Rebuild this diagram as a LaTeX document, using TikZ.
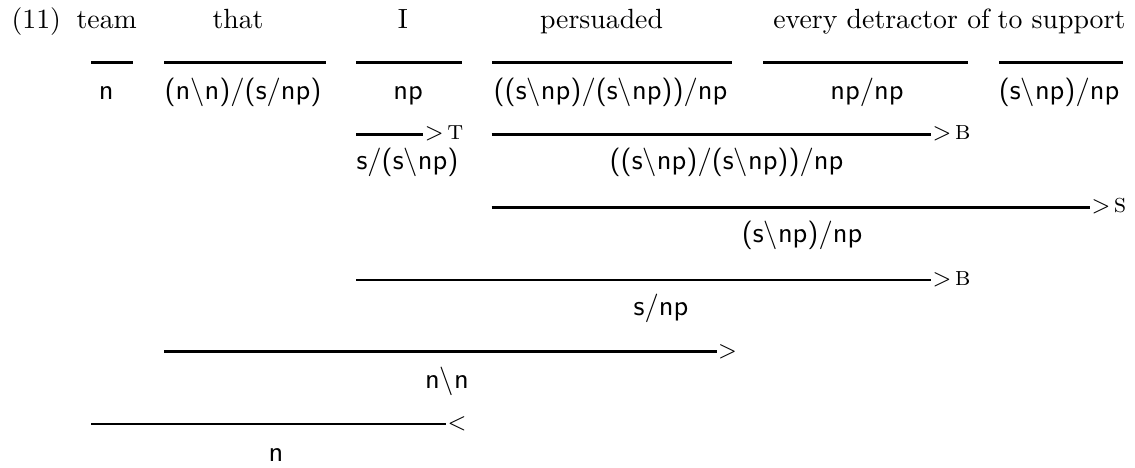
\documentclass[tikz,border=0pt]{standalone}
\newcommand{\cbs}{\ensuremath{\backslash}}
\newcommand{\rlab}[1]{{\fontsize{9.5}{11}\selectfont\textsc{#1}}}
\tikzset{
  word/.style={anchor=base, inner sep=0pt, font=\fontsize{9.75}{11}\selectfont},
  cat/.style={anchor=base, inner sep=0pt, font=\sffamily},
  drule/.style={line width=1.05pt},
  rulelab/.style={anchor=base west, inner sep=0pt, yshift=-5.2*0.3509pt, font=\fontsize{7.6}{9}\selectfont},
}
\begin{document}
\begin{tikzpicture}[x=0.3509pt, y=-0.3509pt]
\useasboundingbox (0,0) rectangle (1135,468);
% words
\node[word, anchor=base west] (num) at (11,28.3) {(11)};
\node[word] (w1) at (106.7,28.3) {team};
\node[word] (w2) at (238,28.3) {that};
\node[word] (w3) at (403,28.3) {I};
\node[word] (w4) at (601.5,28.3) {persuaded};
\node[word] (w5) at (881.5,28.3) {every detractor of};
\node[word] (w6) at (1061.5,28.3) {to support};
% lexical rules
\coordinate (a1) at (91,62.7);    \coordinate (b1) at (132.7,62.7);
\coordinate (a2) at (164,62.7);   \coordinate (b2) at (325.7,62.7);
\coordinate (a3) at (356,62.7);   \coordinate (b3) at (461.7,62.7);
\coordinate (a4) at (492.3,62.7); \coordinate (b4) at (731.7,62.7);
\coordinate (a5) at (763,62.7);   \coordinate (b5) at (968,62.7);
\coordinate (a6) at (999,62.7);   \coordinate (b6) at (1122.7,62.7);
\draw[drule] (a1) -- (b1);
\draw[drule] (a2) -- (b2);
\draw[drule] (a3) -- (b3);
\draw[drule] (a4) -- (b4);
\draw[drule] (a5) -- (b5);
\draw[drule] (a6) -- (b6);
% lexical categories
\node[cat] (c1) at (106.3,99.5) {n};
\node[cat] (c2) at (243,99.5) {(n\cbs n)/(s/np)};
\node[cat] (c3) at (408,99.5) {np};
\node[cat] (c4) at (610.5,99.5) {((s\cbs np)/(s\cbs np))/np};
\node[cat] (c5) at (867,99.5) {np/np};
\node[cat] (c6) at (1059,99.5) {(s\cbs np)/np};
% row 2
\coordinate (t1) at (356,134.3);   \coordinate (t2) at (423.3,134.3);
\draw[drule] (t1) -- (t2) node[rulelab] (lt) {$>$\,\rlab{t}};
\coordinate (p1) at (491.7,134.3); \coordinate (p2) at (931,134.3);
\draw[drule] (p1) -- (p2) node[rulelab] (lb1) {$>$\,\rlab{b}};
\node[cat] (d1) at (407.5,169.5) {s/(s\cbs np)};
\node[cat] (d2) at (726.5,169.5) {((s\cbs np)/(s\cbs np))/np};
% row 3
\coordinate (s1) at (491.7,207.3); \coordinate (s2) at (1090,207.3);
\draw[drule] (s1) -- (s2) node[rulelab] (ls) {$>$\,\rlab{s}};
\node[cat] (e1) at (802,242.5) {(s\cbs np)/np};
% row 4
\coordinate (q1) at (356,280); \coordinate (q2) at (931,280);
\draw[drule] (q1) -- (q2) node[rulelab] (lb2) {$>$\,\rlab{b}};
\node[cat] (f1) at (661,315.5) {s/np};
% row 5
\coordinate (r1) at (164,351.8); \coordinate (r2) at (716.7,351.8);
\draw[drule] (r1) -- (r2) node[rulelab] (lf) {$>$};
\node[cat] (g1) at (447,388.5) {n\cbs n};
% row 6
\coordinate (u1) at (91,424); \coordinate (u2) at (446,424);
\draw[drule] (u1) -- (u2) node[rulelab] (lbk) {$<$};
\node[cat] (h1) at (276,461.5) {n};
\end{tikzpicture}
\end{document}
